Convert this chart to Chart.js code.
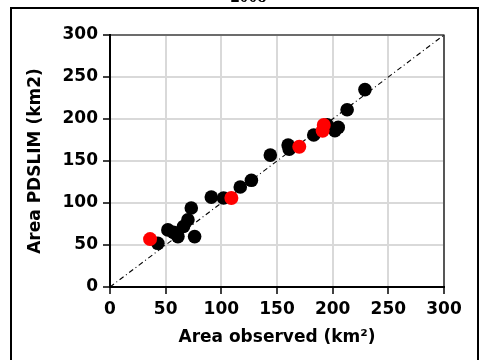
<!DOCTYPE html>
<html lang="en">
<head>
<meta charset="UTF-8">
<title>2008 - Area observed vs PDSLIM</title>
<script src="https://cdn.jsdelivr.net/npm/chart.js"></script>
<style>
    body { margin: 0; background: #fff; }
    .wrap { position: relative; width: 485px; height: 360px; overflow: hidden; }
    .frame { position: absolute; left: 10px; top: 7px; width: 465px; height: 360px; border: 2px solid #000; pointer-events: none; }
    .year { position: absolute; left: 0; width: 497px; top: -13px; text-align: center; font: bold 18px/18px "Liberation Serif", serif; }
</style>
</head>
<body>
<div class="wrap">
    <div class="year">2008</div>
    <div class="frame"></div>
    <canvas id="chart" width="485" height="360"></canvas>
</div>

<script>
    // valores (km2)
    var obsBlack  = [43, 52, 57, 60, 61, 66, 70, 73, 76, 91, 102, 117, 127, 144, 160, 161, 183, 195, 202, 205, 213, 229];
    var simBlack  = [52, 68, 65, 64, 60, 72, 80, 94, 60, 107, 106, 119, 127, 157, 169, 164, 181, 193, 186, 190, 211, 235];
    var obsRed    = [36, 109, 170, 191, 192];
    var simRed    = [57, 106, 167, 186, 193];
    var lineEnds  = [0, 300];
    var tickStep  = 50;

    function pts(xs, ys) {
        return xs.map(function (v, i) { return { x: v, y: ys[i] }; });
    }

    var font = { family: 'DejaVu Sans', weight: 'bold', size: 17 };

    // borde superior y derecho del area de trazado
    var frameBox = {
        id: 'frameBox',
        afterDatasetsDraw: function (chart) {
            var a = chart.chartArea, c = chart.ctx;
            c.save();
            c.strokeStyle = '#000';
            c.lineWidth = 1.2;
            c.beginPath();
            c.moveTo(a.left, a.top);
            c.lineTo(a.right, a.top);
            c.lineTo(a.right, a.bottom);
            c.stroke();
            c.restore();
        }
    };

    new Chart(document.getElementById('chart'), {
        type: 'scatter',
        data: {
            datasets: [
                {
                    label: 'Red',
                    data: pts(obsRed, simRed),
                    backgroundColor: '#ff0000',
                    borderWidth: 0,
                    pointRadius: 7,
                    order: 1
                },
                {
                    label: 'Black',
                    data: pts(obsBlack, simBlack),
                    backgroundColor: '#000',
                    borderWidth: 0,
                    pointRadius: 6.8,
                    order: 2
                },
                {
                    type: 'line',
                    label: '1:1',
                    data: pts(lineEnds, lineEnds),
                    borderColor: '#000',
                    borderWidth: 1.1,
                    borderDash: [5, 3, 1, 3],
                    pointRadius: 0,
                    fill: false,
                    order: 3
                }
            ]
        },
        options: {
            responsive: false,
            animation: false,
            layout: { padding: { left: 0, right: 41, top: 35, bottom: 0 } },
            plugins: { legend: { display: false }, tooltip: { enabled: false } },
            scales: {
                x: {
                    type: 'linear',
                    min: 0, max: 300,
                    ticks: { stepSize: tickStep, color: '#000', font: font, padding: 5, maxRotation: 0 },
                    grid: { color: '#d9d9d9', lineWidth: 2, tickColor: '#000', tickLength: 7, tickWidth: 1.5 },
                    border: { color: '#000', width: 2 },
                    title: { display: true, text: 'Area observed (km²)', color: '#000', font: font, padding: { top: 4, bottom: 12 } },
                    afterFit: function (s) { s.height = 73; }
                },
                y: {
                    type: 'linear',
                    min: 0, max: 300,
                    ticks: { stepSize: tickStep, color: '#000', font: font, padding: 5 },
                    grid: { color: '#d9d9d9', lineWidth: 2, tickColor: '#000', tickLength: 7, tickWidth: 1.5 },
                    border: { color: '#000', width: 2 },
                    title: { display: true, text: 'Area PDSLIM (km2)', color: '#000', font: font, padding: { top: 25, bottom: 4 } },
                    afterFit: function (s) { s.width = 110; }
                }
            }
        },
        plugins: [frameBox]
    });
</script>
</body>
</html>
